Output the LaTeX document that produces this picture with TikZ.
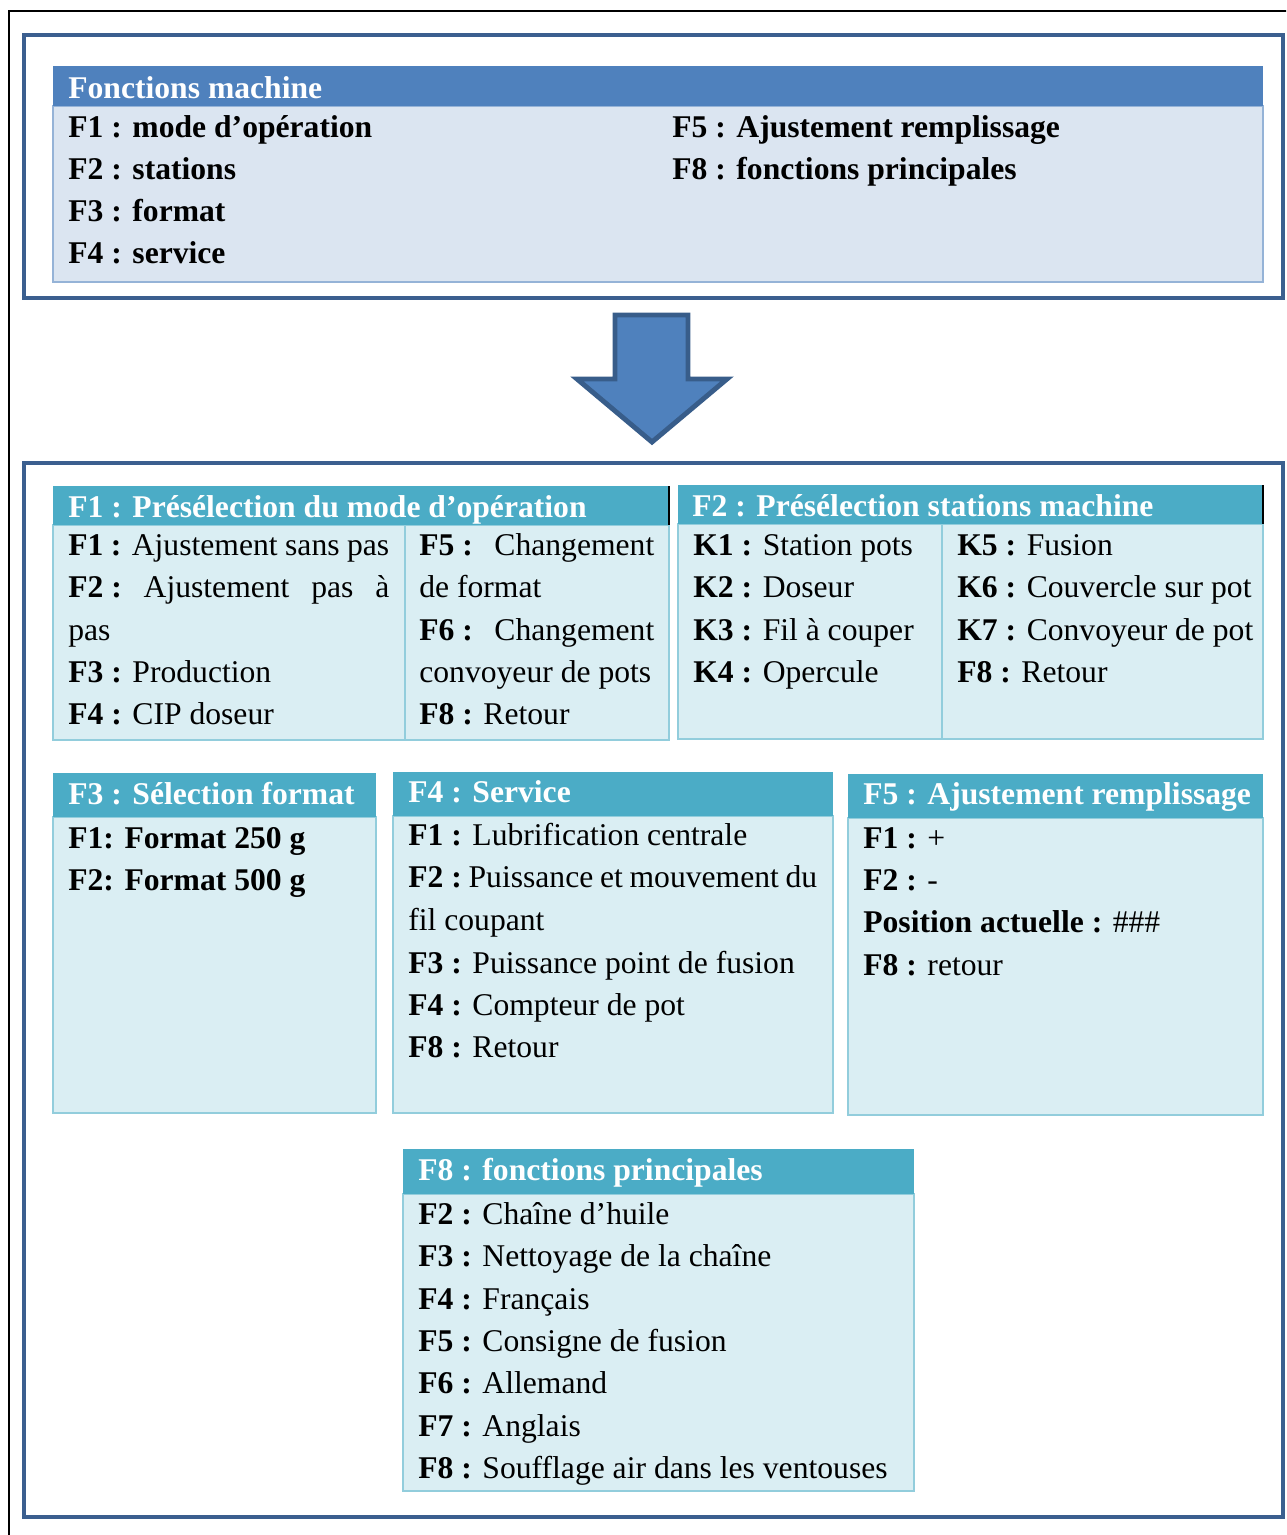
\documentclass[tikz,border=0pt]{standalone}
\usepackage{fontspec}
\setmainfont{Liberation Serif}
\definecolor{frameblue}{HTML}{3B5F8F}
\definecolor{tophead}{HTML}{4F81BD}
\definecolor{topbody}{HTML}{DBE5F1}
\definecolor{topline}{HTML}{95B3D7}
\definecolor{menuhead}{HTML}{4BACC6}
\definecolor{menubody}{HTML}{DAEEF3}
\definecolor{menuline}{HTML}{92CDDC}
\definecolor{arrowline}{HTML}{385D8A}

\begin{document}
\begin{tikzpicture}[x=0.02cm,y=-0.02cm]
  \useasboundingbox (0,0) rectangle (1286,1535);
  \clip (0,0) rectangle (1286,1535);
  \tikzstyle{Frame}=[draw=frameblue,line width=2.3pt]
  \tikzstyle{TopBody}=[fill=topbody,draw=topline,line width=0.9pt]
  \tikzstyle{MenuBody}=[fill=menubody,draw=menuline,line width=0.9pt]
  \tikzstyle{Title}=[anchor=base west,inner sep=0pt,text=white,font=\fontsize{18}{21.6}\selectfont\bfseries]
  \tikzstyle{Item}=[anchor=base west,inner sep=0pt,font=\fontsize{18}{21.6}\selectfont]
  \draw[line width=1.1pt] (9,11) rectangle (1320,1560);
  % fonctions machine
  \draw[Frame] (24,35) rectangle (1283,298);
  \draw[TopBody] (53,106) rectangle (1263,282);
  \fill[tophead] (53,66) rectangle (1263,106);
  \node[Title] (fm) at (68,98) {Fonctions machine};
  \node[Item] (fmF1) at (68,137) {\bfseries F1 : mode d’opération};
  \node[Item] (fmF2) at (68,179) {\bfseries F2 : stations};
  \node[Item] (fmF3) at (68,221) {\bfseries F3 : format};
  \node[Item] (fmF4) at (68,263) {\bfseries F4 : service};
  \node[Item] (fmF5) at (672,137) {\bfseries F5 : Ajustement remplissage};
  \node[Item] (fmF8) at (672,179) {\bfseries F8 : fonctions principales};
  % fleche
  \draw[draw=arrowline,line width=2.8pt,fill=tophead] (615,315) -- (688,315) -- (688,379)
    -- (727,379) -- (652,442) -- (577,379) -- (615,379) -- cycle;
  \draw[Frame] (24,463) rectangle (1283,1517);
  % F1
  \draw[MenuBody] (53,525) rectangle (669,740);
  \draw[menuline,line width=0.9pt] (405,525) -- (405,740);
  \fill[menuhead] (53,486) rectangle (669,525);
  \draw[line width=1.1pt] (669,486) -- (669,525);
  \node[Title] (op) at (68,517) {F1 : Présélection du mode d’opération};
  \node[Item] (opF1) at (68,555) {\makebox[6.42cm][s]{\textbf{F1 :} Ajustement sans pas}};
  \node[Item] (opF2) at (68,597) {\makebox[6.42cm][s]{\mbox{\textbf{F2 :}} Ajustement pas à}};
  \node[Item] (opF2b) at (68,640) {pas};
  \node[Item] (opF3) at (68,682) {\textbf{F3 :} Production};
  \node[Item] (opF4) at (68,724) {\textbf{F4 :} CIP doseur};
  \node[Item] (opF5) at (419,555) {\makebox[4.7cm][s]{\mbox{\textbf{F5 :}} Changement}};
  \node[Item] (opF5b) at (419,597) {de format};
  \node[Item] (opF6) at (419,640) {\makebox[4.7cm][s]{\mbox{\textbf{F6 :}} Changement}};
  \node[Item] (opF6b) at (419,682) {convoyeur de pots};
  \node[Item] (opF8) at (419,724) {\textbf{F8 :} Retour};
  % F2
  \draw[MenuBody] (678,524) rectangle (1263,739);
  \draw[menuline,line width=0.9pt] (942,524) -- (942,739);
  \fill[menuhead] (678,485) rectangle (1263,524);
  \draw[line width=1.1pt] (1263,485) -- (1263,524);
  \node[Title] (st) at (692,516) {F2 : Présélection stations machine};
  \node[Item] (stK1) at (693,555) {\textbf{K1 :} Station pots};
  \node[Item] (stK2) at (693,597) {\textbf{K2 :} Doseur};
  \node[Item] (stK3) at (693,640) {\textbf{K3 :} Fil à couper};
  \node[Item] (stK4) at (693,682) {\textbf{K4 :} Opercule};
  \node[Item] (stK5) at (957,555) {\textbf{K5 :} Fusion};
  \node[Item] (stK6) at (957,597) {\textbf{K6 :} Couvercle sur pot};
  \node[Item] (stK7) at (957,640) {\textbf{K7 :} Convoyeur de pot};
  \node[Item] (stF8) at (957,682) {\textbf{F8 :} Retour};
  % F3
  \draw[MenuBody] (53,817) rectangle (376,1113);
  \fill[menuhead] (53,773) rectangle (376,817);
  \node[Title] (fo) at (68,804) {F3 : Sélection format};
  \node[Item] (foF1) at (68,848) {\bfseries F1: Format 250 g};
  \node[Item] (foF2) at (68,890) {\bfseries F2: Format 500 g};
  % F4
  \draw[MenuBody] (393,816) rectangle (833,1113);
  \fill[menuhead] (393,772) rectangle (833,816);
  \node[Title] (se) at (408,802) {F4 : Service};
  \node[Item] (seF1) at (408,845) {\textbf{F1 :} Lubrification centrale};
  \node[Item] (seF2) at (408,887) {\makebox[8.18cm][s]{\mbox{\textbf{F2 :}} Puissance et mouvement du}};
  \node[Item] (seF2b) at (408,930) {fil coupant};
  \node[Item] (seF3) at (408,973) {\textbf{F3 :} Puissance point de fusion};
  \node[Item] (seF4) at (408,1015) {\textbf{F4 :} Compteur de pot};
  \node[Item] (seF8) at (408,1057) {\textbf{F8 :} Retour};
  % F5
  \draw[MenuBody] (848,818) rectangle (1263,1115);
  \fill[menuhead] (848,774) rectangle (1263,818);
  \node[Title] (re) at (863,804) {F5 : Ajustement remplissage};
  \node[Item] (reF1) at (863,848) {\textbf{F1 :} +};
  \node[Item] (reF2) at (863,890) {\textbf{F2 :} -};
  \node[Item] (rePos) at (863,932) {\textbf{Position actuelle :} \#\#\#};
  \node[Item] (reF8) at (863,975) {\textbf{F8 :} retour};
  % F8
  \draw[MenuBody] (403,1194) rectangle (914,1491);
  \fill[menuhead] (403,1149) rectangle (914,1194);
  \node[Title] (pr) at (418,1180) {F8 : fonctions principales};
  \node[Item] (prF2) at (418,1224) {\textbf{F2 :} Chaîne d’huile};
  \node[Item] (prF3) at (418,1266) {\textbf{F3 :} Nettoyage de la chaîne};
  \node[Item] (prF4) at (418,1309) {\textbf{F4 :} Français};
  \node[Item] (prF5) at (418,1351) {\textbf{F5 :} Consigne de fusion};
  \node[Item] (prF6) at (418,1393) {\textbf{F6 :} Allemand};
  \node[Item] (prF7) at (418,1436) {\textbf{F7 :} Anglais};
  \node[Item] (prF8) at (418,1478) {\textbf{F8 :} Soufflage air dans les ventouses};
\end{tikzpicture}
\end{document}
